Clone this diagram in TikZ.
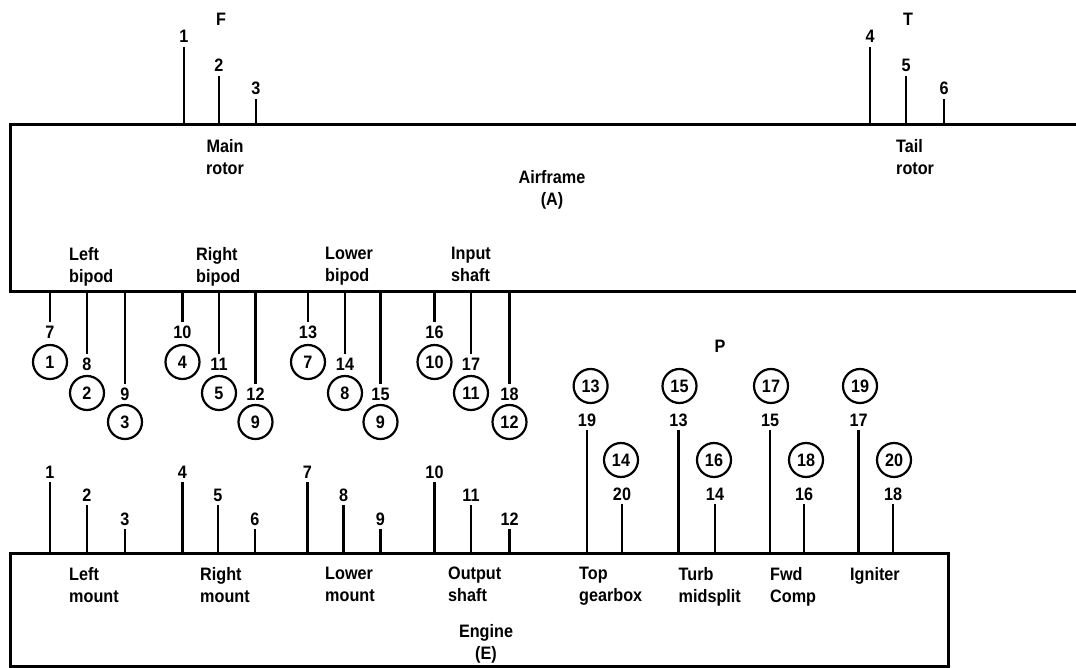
\documentclass[tikz,border=0pt]{standalone}
\usepackage{fontspec}
\setmainfont{Liberation Sans}[FakeStretch=0.9]
\begin{document}
\begin{tikzpicture}[x=1pt,y=-1pt,
  txt/.style={font=\fontsize{18}{22}\selectfont\bfseries, inner sep=0pt},
  lab/.style={txt, align=left, anchor=north west},
  num/.style={font=\fontsize{18}{20}\selectfont\bfseries, inner sep=3.5pt, anchor=base},
  ring/.style={circle, draw, line width=2.2pt, minimum size=34pt, inner sep=0pt,
               font=\fontsize{18}{20}\selectfont\bfseries},
  stub/.style={line width=2.6pt},
  frame/.style={line width=3pt},
]
\fill[white] (0,0) rectangle (1076,668);
\useasboundingbox (0,0) rectangle (1076,668);

% Airframe block (runs off to the right)
\coordinate (airtop) at (10,125);
\coordinate (airbot) at (10,292);
\draw[frame] (1076,125) -- (10,125) -- (10,292) -- (1076,292);

% Engine block
\coordinate (engtop) at (10,553);
\draw[frame] (10,553) rectangle (948,666);

% Main rotor points F
\node[num] (F) at (221,26) {F};
\foreach \n/\x/\y in {1/184/43, 2/219/72, 3/256/95}{
  \node[num] (f\n) at (\x,\y) {\n};
  \draw[stub] (f\n.south) -- (f\n.south |- airtop);
}
% Tail rotor points T
\node[num] (T) at (908,26) {T};
\foreach \n/\x/\y in {4/870/43, 5/906/72, 6/944/95}{
  \node[num] (t\n) at (\x,\y) {\n};
  \draw[stub] (t\n.south) -- (t\n.south |- airtop);
}

% Airframe attachment points with their path numbers
\foreach \n/\x/\y/\c/\cy in {7/50/338/1/362, 8/87/370/2/393, 9/125/400/3/422,
    10/182.5/338/4/362, 11/219/370/5/393, 12/255.5/400/9/422,
    13/308/338/7/362, 14/345/370/8/393, 15/380.5/400/9/422,
    16/434.5/338/10/362, 17/471/370/11/393, 18/509.5/400/12/422}{
  \node[num] (a\n) at (\x,\y) {\n};
  \node[ring] (ra\n) at (\x,\cy) {\c};
  \draw[stub] (a\n.north) -- (a\n.north |- airbot);
}

% Engine mount points
\foreach \n/\x/\y in {1/50/478, 2/87/501, 3/125/525,
    4/182.5/478, 5/218/501, 6/255/525,
    7/307.5/478, 8/343.6/501, 9/380.5/525,
    10/434.5/478, 11/471/501, 12/509.6/525}{
  \node[num] (e\n) at (\x,\y) {\n};
  \draw[stub] (e\n.south) -- (e\n.south |- engtop);
}

% Engine pickup points P
\node[num] (P) at (720,352) {P};
\foreach \c/\n/\x/\cx in {13/19/587/590.6, 15/13/678.5/679.5, 17/15/770/771, 19/17/858.6/860}{
  \node[ring] (rp\n) at (\cx,386) {\c};
  \node[num] (p\n) at (\x,426) {\n};
  \draw[stub] (p\n.south) -- (p\n.south |- engtop);
}
\foreach \c/\n/\x/\cx in {14/20/622/621, 16/14/715/714, 18/16/804/806, 20/18/893/894}{
  \node[ring] (rp\n) at (\cx,460) {\c};
  \node[num] (p\n) at (\x,500) {\n};
  \draw[stub] (p\n.south) -- (p\n.south |- engtop);
}

% Airframe labels
\node[lab, align=center, anchor=north] (mainrotor) at (225,139) {Main\\rotor};
\node[lab] (tailrotor) at (896,139) {Tail\\rotor};
\node[lab, align=center, anchor=north] (airframe) at (552,170) {Airframe\\(A)};
\node[lab] (lbipod) at (69,247) {Left\\bipod};
\node[lab] (rbipod) at (196,247) {Right\\bipod};
\node[lab] (wbipod) at (325,247) {Lower\\bipod};
\node[lab] (ishaft) at (451,247) {Input\\shaft};

% Engine labels
\node[lab] (lmount) at (69,567) {Left\\mount};
\node[lab] (rmount) at (200,567) {Right\\mount};
\node[lab] (wmount) at (325,567) {Lower\\mount};
\node[lab] (oshaft) at (448,567) {Output\\shaft};
\node[lab] (tgear) at (579,567) {Top\\gearbox};
\node[lab] (turb) at (678.5,567) {Turb\\midsplit};
\node[lab] (fwd) at (770,567) {Fwd\\Comp};
\node[lab] (ign) at (850,567) {Igniter};
\node[lab, align=center, anchor=north] (engine) at (486,624) {Engine\\(E)};
\end{tikzpicture}
\end{document}
